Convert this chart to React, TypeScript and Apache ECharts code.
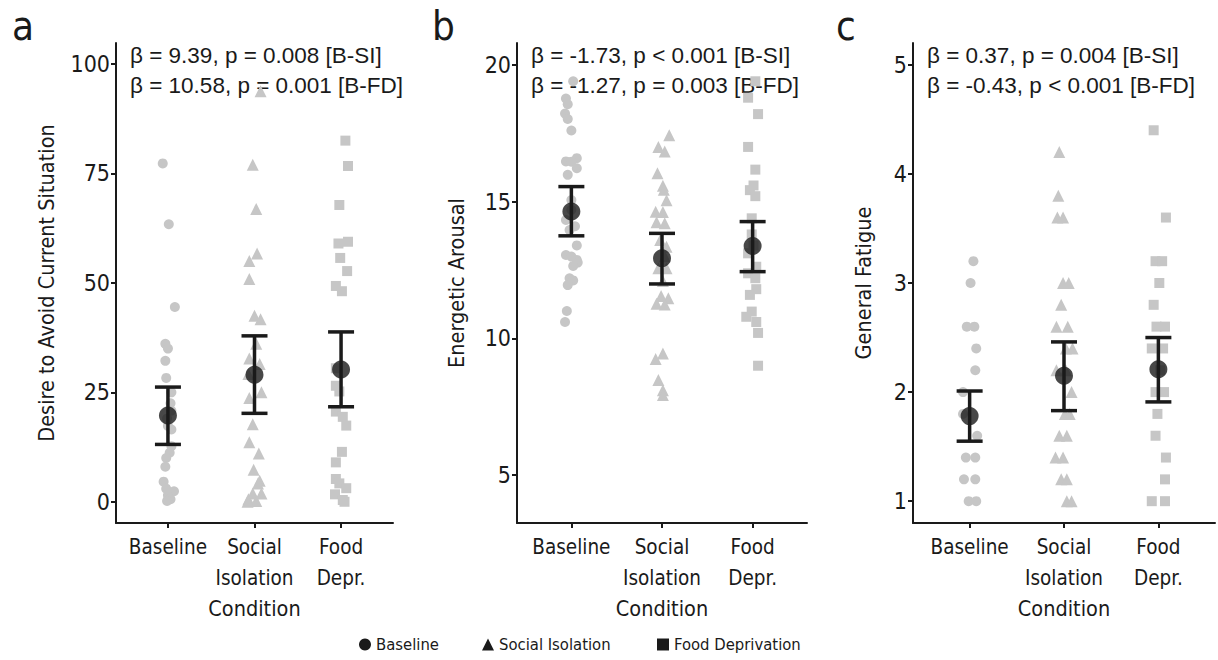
import React, { useEffect, useRef } from "react";
import * as echarts from "echarts";

// ---------- data ----------
const conditionKeys = [1, 2, 3];
const categoryLabels = ["Baseline", "Social\nIsolation", "Food\nDepr."];
const legendNames = ["Baseline", "Social Isolation", "Food Deprivation"];
const panelLetters = ["a", "b", "c"];
const yTitles = ["Desire to Avoid Current Situation", "Energetic Arousal", "General Fatigue"];
const xTitle = "Condition";

const yTicksAvoid = [0, 25, 50, 75, 100];
const yTicksArousal = [5, 10, 15, 20];
const yTicksFatigue = [1, 2, 3, 4, 5];

const statsAvoid = ["β = 9.39, p = 0.008 [B-SI]", "β = 10.58, p = 0.001 [B-FD]"];
const statsArousal = ["β = -1.73, p < 0.001 [B-SI]", "β = -1.27, p = 0.003 [B-FD]"];
const statsFatigue = ["β = 0.37, p = 0.004 [B-SI]", "β = -0.43, p < 0.001 [B-FD]"];

// jittered individual observations: [condition position, value]
const avoidBaseline = [[0.94,77.3],[1.01,63.4],[1.08,44.5],[0.97,36.1],[1.0,35.0],[0.97,32.2],[0.98,28.3],[1.04,25.0],[1.03,22.5],[1.04,20.8],[0.99,19.0],[1.0,17.3],[1.04,16.5],[1.04,12.7],[1.02,11.2],[0.98,10.0],[0.97,8.0],[0.95,4.6],[0.98,3.0],[1.07,2.4],[1.0,1.5],[1.03,0.6],[0.99,0.2]];
const avoidSocial = [[2.07,93.8],[1.98,77.0],[2.02,66.9],[2.03,56.7],[1.94,55.0],[1.94,50.9],[2.0,42.5],[2.07,41.7],[2.02,36.1],[1.94,32.7],[2.06,31.5],[1.93,29.2],[2.08,25.0],[1.94,23.7],[1.98,17.7],[1.94,13.6],[2.05,11.0],[1.99,7.3],[2.06,4.8],[2.04,4.2],[1.98,1.9],[2.08,1.9],[1.93,0.6],[2.02,0.2],[1.92,0.0]];
const avoidFood = [[3.05,82.5],[3.08,76.7],[2.98,67.8],[2.97,59.0],[3.08,59.4],[2.99,55.7],[3.07,52.7],[2.94,49.3],[3.01,48.1],[2.94,30.5],[2.94,26.5],[2.98,25.2],[2.94,20.6],[3.02,19.4],[3.06,17.4],[3.01,11.4],[2.94,9.0],[2.94,5.2],[2.98,4.2],[3.06,3.1],[2.93,1.7],[3.02,0.4],[3.04,0.0]];

const arousalBaseline = [[1.02,19.4],[0.94,18.77],[0.96,18.56],[0.93,18.22],[0.96,18.02],[1.0,17.6],[1.06,16.59],[0.94,16.47],[1.0,16.46],[1.06,16.22],[0.96,15.98],[1.0,15.06],[1.0,14.7],[1.04,14.1],[0.94,14.33],[0.98,13.96],[1.06,13.4],[0.94,13.05],[1.0,12.99],[1.06,12.87],[1.07,12.77],[1.02,12.65],[0.98,12.2],[1.02,12.12],[0.96,11.95],[0.95,11.0],[0.93,10.6]];
const arousalSocial = [[2.08,17.43],[1.96,17.0],[2.03,16.83],[1.95,16.04],[2.01,15.58],[2.02,15.43],[2.05,15.05],[1.93,14.63],[2.01,14.62],[1.94,14.25],[2.03,14.21],[1.98,13.6],[2.05,13.35],[2.03,13.0],[1.96,12.56],[2.05,12.56],[2.01,12.1],[1.99,11.55],[2.07,11.47],[1.94,11.27],[2.03,11.24],[2.01,9.45],[1.93,9.25],[1.96,8.48],[2.01,8.1],[2.01,7.93]];
const arousalFood = [[3.03,19.4],[2.95,18.8],[3.06,18.2],[2.95,17.0],[3.03,16.17],[3.01,15.59],[2.97,15.42],[3.03,15.2],[2.99,14.39],[2.99,13.8],[3.01,13.4],[2.95,13.11],[3.04,12.62],[2.95,12.38],[3.03,12.2],[3.04,11.8],[2.97,11.59],[2.99,10.98],[2.93,10.79],[3.04,10.6],[3.06,10.2],[3.06,9.0]];

const fatigueBaseline = [[1.04,3.2],[1.01,3.0],[0.97,2.6],[1.05,2.6],[1.07,2.4],[1.06,2.2],[0.93,2.0],[0.93,1.8],[1.08,1.6],[0.96,1.4],[1.06,1.4],[0.94,1.2],[1.06,1.2],[0.99,1.0],[1.07,1.0]];
const fatigueSocial = [[1.95,4.2],[1.94,3.8],[1.93,3.6],[1.99,3.6],[1.99,3.0],[2.05,3.0],[1.97,2.8],[1.92,2.6],[2.04,2.6],[2.02,2.4],[2.09,2.4],[1.92,2.2],[2.02,2.2],[2.08,2.0],[2.01,1.8],[2.06,1.8],[1.95,1.6],[2.03,1.6],[1.91,1.4],[1.99,1.4],[1.97,1.2],[2.03,1.2],[2.03,1.0],[2.08,1.0]];
const fatigueFood = [[2.95,4.4],[3.08,3.6],[2.97,3.2],[3.04,3.2],[3.01,3.0],[2.95,2.8],[2.98,2.6],[3.07,2.6],[2.93,2.4],[3.05,2.4],[3.02,2.2],[2.97,2.0],[3.06,2.0],[2.99,1.8],[2.97,1.6],[3.08,1.4],[3.07,1.2],[2.93,1.0],[3.07,1.0]];

// estimated means with 95% CI
const avoidMean = [19.7, 29.0, 30.2];
const avoidUpper = [26.2, 37.9, 38.8];
const avoidLower = [13.1, 20.2, 21.7];
const arousalMean = [14.64, 12.93, 13.38];
const arousalUpper = [15.55, 13.84, 14.27];
const arousalLower = [13.75, 11.99, 12.44];
const fatigueMean = [1.78, 2.15, 2.21];
const fatigueUpper = [2.01, 2.46, 2.5];
const fatigueLower = [1.55, 1.83, 1.91];

// ---------- styling ----------
const NARROW = "'Liberation Sans Narrow', 'DejaVu Sans Condensed', 'Roboto', sans-serif";
const REGULAR = "'Liberation Sans', Arial, sans-serif";
const INK = "#1a1a1a";
const GREY = "#c6c6c6";
const TOP = 43;
const HEIGHT = 480;

const panels = [
  { left: 116, width: 277, yMin: -4.85, yMax: 104.8, ticks: yTicksAvoid, nameGap: 59, stats: statsAvoid,
    pts: [avoidBaseline, avoidSocial, avoidFood], mean: avoidMean, up: avoidUpper, lo: avoidLower, letterX: 12 },
  { left: 517, width: 290, yMin: 3.25, yMax: 20.8, ticks: yTicksArousal, nameGap: 50, stats: statsArousal,
    pts: [arousalBaseline, arousalSocial, arousalFood], mean: arousalMean, up: arousalUpper, lo: arousalLower, letterX: 432 },
  { left: 913, width: 302, yMin: 0.8, yMax: 5.2, ticks: yTicksFatigue, nameGap: 39, stats: statsFatigue,
    pts: [fatigueBaseline, fatigueSocial, fatigueFood], mean: fatigueMean, up: fatigueUpper, lo: fatigueLower, letterX: 836 },
];

const symbols = ["circle", "triangle", "rect"];
const symbolSizes = [10, 12, 10];
const legendLefts = [359, 482, 657];

export default function App() {
  const ref = useRef<HTMLDivElement>(null);
  useEffect(() => {
    if (!ref.current) return;
    const chart = echarts.init(ref.current, null, { renderer: "svg" });

    const grid: any[] = [];
    const xAxis: any[] = [];
    const yAxis: any[] = [];
    const series: any[] = [];
    const graphic: any[] = [];

    panels.forEach((p, i) => {
      grid.push({ left: p.left, top: TOP, width: p.width, height: HEIGHT, containLabel: false });
      xAxis.push({
        type: "value", gridIndex: i, min: 0.4, max: 3.6,
        name: xTitle, nameLocation: "middle", nameGap: 73,
        nameTextStyle: { fontFamily: NARROW, fontSize: 21.5, color: INK },
        axisLine: { show: true, onZero: false, lineStyle: { color: INK, width: 2 } },
        axisTick: { show: true, customValues: conditionKeys, length: 5, lineStyle: { color: INK, width: 2 } },
        axisLabel: {
          show: true, customValues: conditionKeys, margin: 8, hideOverlap: false,
          showMinLabel: true, showMaxLabel: true,
          formatter: (v: number) => categoryLabels[Math.round(v) - 1] ?? "",
          fontFamily: NARROW, fontSize: 20.5, lineHeight: 31, color: INK,
        },
        splitLine: { show: false },
      });
      yAxis.push({
        type: "value", gridIndex: i, min: p.yMin, max: p.yMax,
        name: yTitles[i], nameLocation: "middle", nameGap: p.nameGap,
        nameTextStyle: { fontFamily: NARROW, fontSize: 21.5, color: INK },
        axisLine: { show: true, onZero: false, lineStyle: { color: INK, width: 2 } },
        axisTick: { show: true, customValues: p.ticks, length: 5, lineStyle: { color: INK, width: 2 } },
        axisLabel: {
          show: true, customValues: p.ticks, margin: 6, hideOverlap: false,
          showMinLabel: true, showMaxLabel: true,
          fontFamily: NARROW, fontSize: 23, color: INK,
        },
        splitLine: { show: false },
      });

      p.pts.forEach((pts, k) => {
        series.push({
          type: "scatter", name: legendNames[k], xAxisIndex: i, yAxisIndex: i,
          data: pts, symbol: symbols[k], symbolSize: symbolSizes[k],
          itemStyle: { color: GREY, opacity: 1 }, z: 2, silent: true,
        });
      });

      const errData = conditionKeys.map((c, k) => [c, p.up[k], p.lo[k]]);
      series.push({
        type: "custom", xAxisIndex: i, yAxisIndex: i, data: errData, z: 5, silent: true,
        renderItem: (params: any, api: any) => {
          const x = api.value(0);
          const top = api.coord([x, api.value(1)]);
          const bot = api.coord([x, api.value(2)]);
          const hw = 13;
          const style = { stroke: INK, lineWidth: 3.5 };
          return {
            type: "group",
            children: [
              { type: "line", shape: { x1: top[0], y1: top[1], x2: bot[0], y2: bot[1] }, style },
              { type: "line", shape: { x1: top[0] - hw, y1: top[1], x2: top[0] + hw, y2: top[1] }, style },
              { type: "line", shape: { x1: bot[0] - hw, y1: bot[1], x2: bot[0] + hw, y2: bot[1] }, style },
            ],
          };
        },
      });
      series.push({
        type: "scatter", xAxisIndex: i, yAxisIndex: i, z: 6, silent: true,
        data: conditionKeys.map((c, k) => [c, p.mean[k]]),
        symbol: "circle", symbolSize: 18, itemStyle: { color: INK },
      });

      graphic.push({
        type: "text", left: p.letterX, top: 6,
        style: { text: panelLetters[i], fontFamily: NARROW, fontSize: 40, fill: INK },
      });
      p.stats.forEach((s, k) => {
        graphic.push({
          type: "text", x: p.left + 14, y: 55 + k * 30,
          style: { text: s, fontFamily: REGULAR, fontSize: 22.5, fill: INK, verticalAlign: "middle", align: "left" },
        });
      });
    });

    const legend = legendNames.map((n, k) => ({
      show: true, selectedMode: false, left: legendLefts[k], top: 636,
      itemWidth: 12, itemHeight: 12, itemGap: 0, padding: 0,
      textStyle: { fontFamily: NARROW, fontSize: 16.5, color: INK },
      data: [{ name: n, icon: symbols[k], itemStyle: { color: INK } }],
    }));

    chart.setOption({
      animation: false,
      backgroundColor: "#ffffff",
      grid, xAxis, yAxis, series, graphic, legend,
    });
    return () => chart.dispose();
  }, []);
  return (
    <div
      ref={ref}
      style={{ position: "fixed", left: 0, top: 0, width: 1218, height: 660, background: "#fff" }}
    />
  );
}
